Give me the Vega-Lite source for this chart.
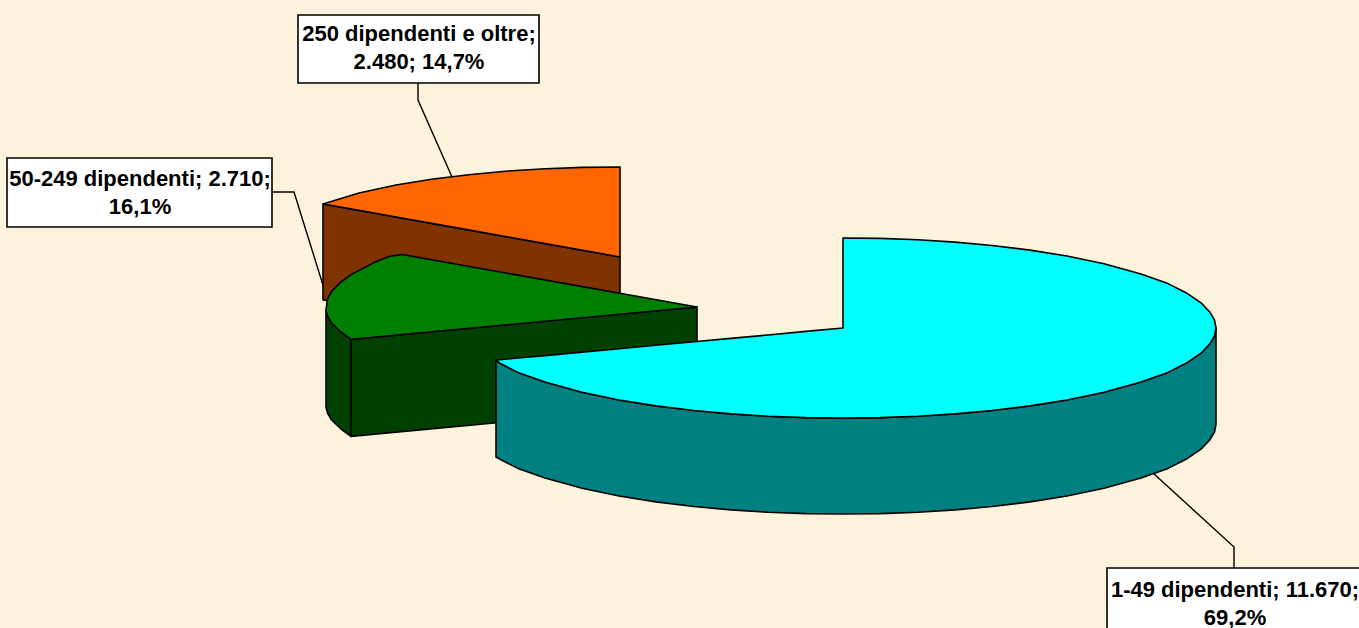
{"$schema":"https://vega.github.io/schema/vega-lite/v6.json","width":1359,"height":628,"padding":0,"autosize":{"type":"none"},"background":"#FDF3DC","view":{"stroke":null},
"datasets":{
"labels":[
{"categoria":"250 dipendenti e oltre","dipendenti":2480,"quota":14.7,"label":"250 dipendenti e oltre;\n2.480; 14,7%","left":298,"right":539,"top":15,"bottom":83,"cx":419,"cy":34},
{"categoria":"50-249 dipendenti","dipendenti":2710,"quota":16.1,"label":"50-249 dipendenti; 2.710;\n16,1%","left":7,"right":272,"top":158,"bottom":227,"cx":140,"cy":179},
{"categoria":"1-49 dipendenti","dipendenti":11670,"quota":69.2,"label":"1-49 dipendenti; 11.670;\n69,2%","left":1107,"right":1365,"top":568,"bottom":640,"cx":1235,"cy":590}],
"leaders":[
{"leader":"a","i":1,"x":418,"y":83},{"leader":"a","i":2,"x":418,"y":100},{"leader":"a","i":3,"x":452,"y":177},
{"leader":"b","i":1,"x":272,"y":192},{"leader":"b","i":2,"x":294,"y":192},{"leader":"b","i":3,"x":327,"y":298},
{"leader":"c","i":1,"x":1234,"y":568},{"leader":"c","i":2,"x":1234,"y":547},{"leader":"c","i":3,"x":1153,"y":473}],
"pieces":[
{"piece":"o wall","x":323,"y":204,"y2":300},{"piece":"o wall","x":620,"y":257,"y2":353},
{"piece":"o top","x":323,"y":204,"y2":204},{"piece":"o top","x":359,"y":193,"y2":210.4},{"piece":"o top","x":396,"y":185,"y2":217},{"piece":"o top","x":433,"y":179,"y2":223.6},{"piece":"o top","x":471,"y":174.5,"y2":230.4},{"piece":"o top","x":508,"y":171,"y2":237},{"piece":"o top","x":545,"y":168.8,"y2":243.6},{"piece":"o top","x":583,"y":167.4,"y2":250.4},{"piece":"o top","x":620,"y":167,"y2":257},
{"piece":"g cut","x":351,"y":339.4,"y2":436.4},{"piece":"g cut","x":697,"y":307,"y2":404},
{"piece":"g arc","x":326,"y":310,"y2":407},{"piece":"g arc","x":327.5,"y":316,"y2":413},{"piece":"g arc","x":331.6,"y":323,"y2":420},{"piece":"g arc","x":341,"y":332,"y2":429},{"piece":"g arc","x":351,"y":339.4,"y2":436.4},
{"piece":"g top","x":326,"y":310,"y2":310},{"piece":"g top","x":327.5,"y":299,"y2":316},{"piece":"g top","x":331.6,"y":291.4,"y2":323},{"piece":"g top","x":341,"y":282,"y2":332},{"piece":"g top","x":351,"y":274.6,"y2":339.4},{"piece":"g top","x":374,"y":262.6,"y2":337.2},{"piece":"g top","x":389,"y":256.5,"y2":335.8},{"piece":"g top","x":402,"y":254.5,"y2":334.6},{"piece":"g top","x":697,"y":307,"y2":307},
{"piece":"c wall","x":496,"y":360,"y2":457},{"piece":"c wall","x":500,"y":363.3,"y2":459.3},{"piece":"c wall","x":518,"y":372.4,"y2":468.4},{"piece":"c wall","x":545,"y":382,"y2":478},{"piece":"c wall","x":582,"y":392.3,"y2":488.3},{"piece":"c wall","x":619,"y":400,"y2":496},{"piece":"c wall","x":656,"y":405.9,"y2":501.9},{"piece":"c wall","x":694,"y":410.5,"y2":506.5},{"piece":"c wall","x":731,"y":413.9,"y2":509.9},{"piece":"c wall","x":768,"y":416.2,"y2":512.2},{"piece":"c wall","x":806,"y":417.6,"y2":513.6},{"piece":"c wall","x":843,"y":418,"y2":514},{"piece":"c wall","x":880,"y":417.6,"y2":513.6},{"piece":"c wall","x":918,"y":416.2,"y2":512.2},{"piece":"c wall","x":955,"y":413.9,"y2":509.9},{"piece":"c wall","x":992,"y":410.5,"y2":506.5},{"piece":"c wall","x":1030,"y":405.9,"y2":501.9},{"piece":"c wall","x":1067,"y":400,"y2":496},{"piece":"c wall","x":1104,"y":392.3,"y2":488.3},{"piece":"c wall","x":1141,"y":382,"y2":478},{"piece":"c wall","x":1168,"y":372.4,"y2":468.4},{"piece":"c wall","x":1186,"y":363.3,"y2":459.3},{"piece":"c wall","x":1201,"y":353.2,"y2":449.2},{"piece":"c wall","x":1210,"y":343.6,"y2":439.6},{"piece":"c wall","x":1214.5,"y":336,"y2":432},{"piece":"c wall","x":1216,"y":328,"y2":424},
{"piece":"c top","x":496,"y":360,"y2":360},{"piece":"c top","x":500,"y":359.7,"y2":363.3},{"piece":"c top","x":518,"y":358,"y2":372.4},{"piece":"c top","x":545,"y":355.6,"y2":382},{"piece":"c top","x":582,"y":352.1,"y2":392.3},{"piece":"c top","x":619,"y":348.7,"y2":400},{"piece":"c top","x":656,"y":345.3,"y2":405.9},{"piece":"c top","x":694,"y":341.8,"y2":410.5},{"piece":"c top","x":731,"y":338.4,"y2":413.9},{"piece":"c top","x":768,"y":335,"y2":416.2},{"piece":"c top","x":806,"y":331.4,"y2":417.6},{"piece":"c top","x":843,"y":328,"y2":418},{"piece":"c top","x":843,"y":238,"y2":418},{"piece":"c top","x":880,"y":238.4,"y2":417.6},{"piece":"c top","x":918,"y":239.8,"y2":416.2},{"piece":"c top","x":955,"y":242.1,"y2":413.9},{"piece":"c top","x":992,"y":245.5,"y2":410.5},{"piece":"c top","x":1030,"y":250.1,"y2":405.9},{"piece":"c top","x":1067,"y":256,"y2":400},{"piece":"c top","x":1104,"y":263.7,"y2":392.3},{"piece":"c top","x":1141,"y":274,"y2":382},{"piece":"c top","x":1168,"y":283.6,"y2":372.4},{"piece":"c top","x":1186,"y":292.7,"y2":363.3},{"piece":"c top","x":1201,"y":302.8,"y2":353.2},{"piece":"c top","x":1210,"y":312.4,"y2":343.6},{"piece":"c top","x":1214.5,"y":320,"y2":336},{"piece":"c top","x":1216,"y":328,"y2":328}
]},
"layer":[
{"data":{"name":"leaders"},"mark":{"type":"line","stroke":"#000000","strokeWidth":1.4},
"encoding":{"x":{"field":"x","type":"quantitative","axis":null,"scale":{"domain":[0,1359],"nice":false,"zero":false}},"y":{"field":"y","type":"quantitative","axis":null,"scale":{"domain":[628,0],"nice":false,"zero":false}},"detail":{"field":"leader"},"order":{"field":"i"}}},
{"data":{"name":"pieces"},"mark":{"type":"area","stroke":"#000000","strokeWidth":1.6,"strokeJoin":"round","orient":"vertical"},
"encoding":{"x":{"field":"x","type":"quantitative","axis":null,"scale":{"domain":[0,1359],"nice":false,"zero":false}},"y":{"field":"y","type":"quantitative","axis":null,"scale":{"domain":[628,0],"nice":false,"zero":false}},"y2":{"field":"y2"},
"fill":{"field":"piece","type":"nominal","legend":null,"sort":null,"scale":{"domain":["o wall","o top","g cut","g arc","g top","c wall","c top"],"range":["#803300","#FF6600","#004000","#004000","#008000","#008080","#00FFFF"]}}}},
{"data":{"name":"labels"},"mark":{"type":"rect","fill":"#FFFFFF","stroke":"#000000","strokeWidth":1.6},
"encoding":{"x":{"field":"left","type":"quantitative","axis":null,"scale":{"domain":[0,1359],"nice":false,"zero":false}},"x2":{"field":"right"},"y":{"field":"top","type":"quantitative","axis":null,"scale":{"domain":[628,0],"nice":false,"zero":false}},"y2":{"field":"bottom"}}},
{"data":{"name":"labels"},"mark":{"type":"text","font":"Liberation Sans","fontWeight":"bold","fontSize":22,"color":"#000000","align":"center","baseline":"middle","lineBreak":"\n","lineHeight":28},
"encoding":{"x":{"field":"cx","type":"quantitative","axis":null,"scale":{"domain":[0,1359],"nice":false,"zero":false}},"y":{"field":"cy","type":"quantitative","axis":null,"scale":{"domain":[628,0],"nice":false,"zero":false}},"text":{"field":"label"}}}
]}
